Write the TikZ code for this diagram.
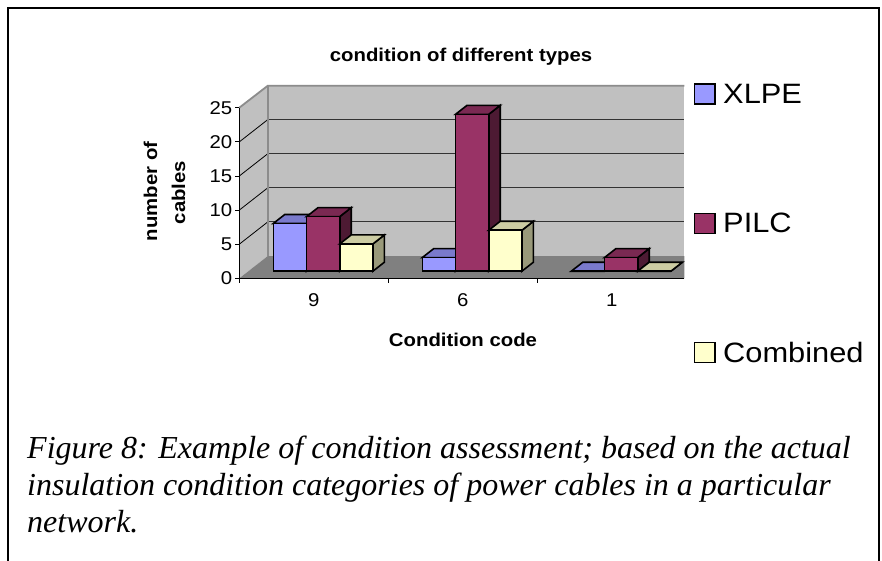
\documentclass[tikz,border=0pt]{standalone}
\usepackage{fontspec}
\setmainfont{Liberation Serif}
\newfontfamily\chartfont[FakeStretch=1.1]{Liberation Sans}

% colours of the chart
\definecolor{wallgray}{HTML}{C0C0C0}
\definecolor{floorgray}{HTML}{808080}
\definecolor{edgegray}{HTML}{8C8C8C}
\definecolor{xlpefront}{HTML}{9999FF}
\definecolor{xlpetop}{HTML}{7A7ACC}
\definecolor{xlpeside}{HTML}{5C5C99}
\definecolor{pilcfront}{HTML}{993366}
\definecolor{pilctop}{HTML}{7A2952}
\definecolor{pilcside}{HTML}{4D1A33}
\definecolor{combfront}{HTML}{FFFFCC}
\definecolor{combtop}{HTML}{CCCCA3}
\definecolor{combside}{HTML}{99997A}

% one 3-D column: #1 category, #2 series, #3 value, #4 front, #5 top, #6 side
\newcommand\drawcolumn[6]{%
  \pgfmathsetmacro\colL{239.3+149*#1+34+33.2*#2}%
  \pgfmathsetmacro\colR{\colL+33.2}%
  \pgfmathsetmacro\colB{271.2}%
  \pgfmathsetmacro\colT{271.2-6.82*#3}%
  \filldraw[barline, fill=#6] (\colR,\colT) -- (\colR+11.5,\colT-9) -- (\colR+11.5,\colB-9) -- (\colR,\colB) -- cycle;
  \filldraw[barline, fill=#5] (\colL,\colT) -- (\colL+11.5,\colT-9) -- (\colR+11.5,\colT-9) -- (\colR,\colT) -- cycle;
  \filldraw[barline, fill=#4] (\colL,\colB) rectangle (\colR,\colT);
}

\begin{document}
\begin{tikzpicture}[x=1pt,y=-1pt,
  barline/.style={draw=black, line width=1.6pt, line join=miter},
  walledge/.style={draw=edgegray, line width=1.8pt},
  gridline/.style={draw=black!80, line width=0.9pt},
  axisline/.style={draw=black, line width=0.9pt},
  charttext/.style={inner sep=0pt, font=\chartfont\fontsize{18.5}{22}\selectfont},
  chartbold/.style={inner sep=0pt, font=\chartfont\bfseries\fontsize{18.5}{22}\selectfont},
  legendtext/.style={inner sep=0pt, anchor=west, font=\chartfont\fontsize{28}{32}\selectfont},
  legendkey/.style={draw=black, line width=1.6pt},
  captiontext/.style={inner sep=0pt, anchor=base west, font=\itshape\fontsize{32}{37}\selectfont}]

\useasboundingbox (0,0) rectangle (882,560);
\fill[white] (0,0) rectangle (882,560);

% frame round chart and caption
\draw[black, line width=2pt] (7.5,570) -- (7.5,7.5) -- (879,7.5) -- (879,570);

% title
\node[chartbold, anchor=base] (title) at (461,61.7) {condition of different types};

% side wall, back wall and floor
\fill[wallgray] (239.3,278.3) -- (267.8,256) -- (267.8,85.7) -- (239.3,107.7) -- cycle;
\fill[wallgray] (267.8,85.7) rectangle (684.3,256);
\fill[floorgray] (239.3,278.3) -- (267.8,256) -- (684.3,256) -- (684.3,278.3) -- cycle;

% grid lines for 5, 10, 15, 20
\foreach \k in {1,2,3,4} {
  \draw[gridline] (267.8,256-34.1*\k) -- (684.3,256-34.1*\k);
  \draw[black, line width=0.8pt] (239.3,278.3-34.1*\k) -- (267.8,256-34.1*\k);
}

% wall edges
\draw[walledge] (239.3,107.7) -- (267.8,85.7) -- (684.3,85.7);
\draw[walledge] (267.8,85.7) -- (267.8,256);

% value axis with ticks and labels
\draw[axisline] (239.3,107.7) -- (239.3,278.3);
\foreach \v/\nm in {0/v0,5/v5,10/v10,15/v15,20/v20,25/v25} {
  \draw[axisline] (235.3,278.3-6.82*\v) -- (239.3,278.3-6.82*\v);
  \node[charttext, anchor=east] (\nm) at (232.5,278.3-6.82*\v) {\v};
}

% category axis with ticks and labels
\draw[axisline] (239.3,278.3) -- (684.3,278.3);
\foreach \x in {239.3,388.3,537.3} {
  \draw[axisline] (\x,278.3) -- (\x,282.5);
}
\node[charttext, anchor=base] (c9) at (313.8,306.7) {9};
\node[charttext, anchor=base] (c6) at (462.8,306.7) {6};
\node[charttext, anchor=base] (c1) at (611.8,306.7) {1};

% axis titles
\node[chartbold, anchor=base] (xtitle) at (463,346.7) {Condition code};
\node[chartbold, anchor=base, rotate=90] (ytitle1) at (157,191.5) {number of};
\node[chartbold, anchor=base, rotate=90] (ytitle2) at (185,192.5) {cables};

% columns: category 9
\drawcolumn{0}{0}{7}{xlpefront}{xlpetop}{xlpeside}
\drawcolumn{0}{1}{8}{pilcfront}{pilctop}{pilcside}
\drawcolumn{0}{2}{4}{combfront}{combtop}{combside}
% category 6
\drawcolumn{1}{0}{2}{xlpefront}{xlpetop}{xlpeside}
\drawcolumn{1}{1}{23}{pilcfront}{pilctop}{pilcside}
\drawcolumn{1}{2}{6}{combfront}{combtop}{combside}
% category 1
\drawcolumn{2}{0}{0}{xlpefront}{xlpetop}{xlpeside}
\drawcolumn{2}{1}{2}{pilcfront}{pilctop}{pilcside}
\drawcolumn{2}{2}{0}{combfront}{combtop}{combside}

% legend
\filldraw[legendkey, fill=xlpefront] (694.5,84.2) rectangle (714.8,104.2);
\node[legendtext] (lxlpe) at (723,94.2) {XLPE};
\filldraw[legendkey, fill=pilcfront] (694.5,213.3) rectangle (714.8,233.3);
\node[legendtext] (lpilc) at (723,223.3) {PILC};
\filldraw[legendkey, fill=combfront] (694.5,342.3) rectangle (714.8,362.3);
\node[legendtext] (lcomb) at (723,352.3) {Combined};

% caption
\node[captiontext] (cap1) at (27,458) {Figure 8: Example of condition assessment; based on the actual};
\node[captiontext] (cap2) at (27,495) {insulation condition categories of power cables in a particular};
\node[captiontext] (cap3) at (27,532) {network.};

\end{tikzpicture}
\end{document}
